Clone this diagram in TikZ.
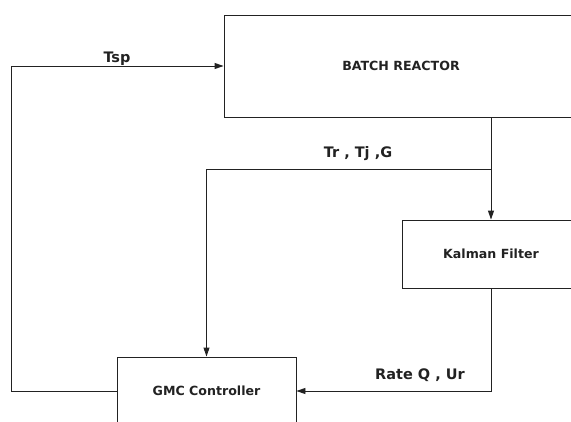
\documentclass[tikz,border=0pt]{standalone}
\usepackage{fontspec}
\setsansfont{DejaVu Sans}
\usepackage{tikz}
\usetikzlibrary{arrows.meta,calc}
\definecolor{linea}{HTML}{222222}

\begin{document}
\begin{tikzpicture}[x=1pt, y=-1pt, line width=0.9pt, color=linea,
    >={Triangle[length=9pt,width=6pt]},
    blocco/.style={draw, rectangle, inner sep=0pt, font=\sffamily\bfseries\fontsize{12.6}{15}\selectfont},
    segnale/.style={anchor=base, inner sep=0pt, font=\sffamily\bfseries\fontsize{14.5}{17}\selectfont}]
            % Area visibile (i blocchi escono dal bordo)
            \clip (0,0) rectangle (571,421);
            
            % Blocchi del processo
            \node[blocco, minimum width=354pt, minimum height=102pt] (reattore) at (401,66) {BATCH REACTOR};
            \node[blocco, minimum width=178pt, minimum height=68pt] (filtro) at (491,254) {Kalman Filter};
            \node[blocco, minimum width=179pt, minimum height=68pt] (gmc) at (206.5,391) {GMC Controller};
            
            % Misure dal reattore verso il filtro
            \draw[->] (reattore.south -| filtro.north) -- (filtro.north);
            
            % Diramazione delle misure verso il controllore
            \coordinate (diram) at (491,169);
            \draw[->] (diram) -| (gmc.north);
            \node[segnale] (misure) at (358,157) {Tr , Tj ,G};
            
            % Stima del filtro verso il controllore
            \draw[->] (filtro.south) |- (gmc.east);
            \node[segnale] (stima) at (420,379) {Rate Q , Ur};
            
            % Set point dal controllore al reattore
            \coordinate (angolo) at (11,66);
            \draw[->] (gmc.west) -| (angolo) -- (reattore.west);
            \node[segnale] (tsp) at (117,62) {Tsp};
        \end{tikzpicture}
\end{document}
